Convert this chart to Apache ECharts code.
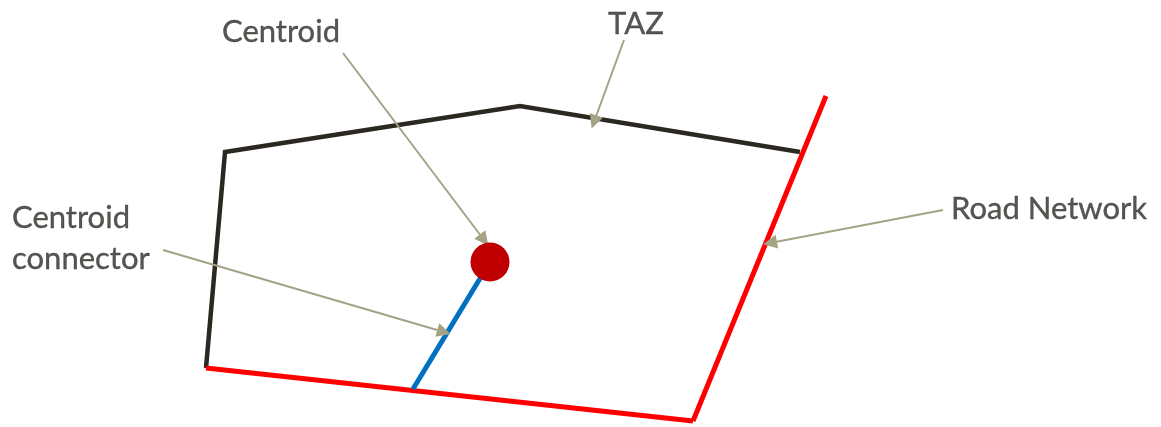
<!DOCTYPE html>
<html><head><meta charset="utf-8">
<script src="https://cdn.jsdelivr.net/npm/echarts@6/dist/echarts.min.js"></script>
<style>html,body{margin:0;padding:0;background:#fff}#c{width:1161px;height:427px}</style>
</head><body><div id="c"></div>
<script>
// Diagram geometry (pixel-space data coordinates)
const tazBoundary = [[206,368],[225,152],[520,106],[800,152]];
const roadBottom = [[206,368],[693,421]];
const roadRight = [[693,421],[826,96]];
const connector = [[413,389],[490,262]];
const centroid = [[490,262]];
const arrows = [
  [[343,53],[484,240]],
  [[624,40],[594,122]],
  [[163,250],[444,332]],
  [[943,210],[770,243]]
];
const labels = [
  {name:'Centroid', at:[281,32], align:'center'},
  {name:'TAZ', at:[636,24], align:'center'},
  {name:'Centroid\nconnector', at:[12,238], align:'left'},
  {name:'Road Network', at:[951,209], align:'left'}
];

const chart = echarts.init(document.getElementById('c'));
chart.setOption({
  animation:false,
  grid:{left:0,right:0,top:0,bottom:0},
  xAxis:{type:'value',min:0,max:1161,show:false},
  yAxis:{type:'value',min:0,max:427,inverse:true,show:false},
  series:[
    {type:'line',z:2,data:tazBoundary,symbol:'none',lineStyle:{color:'#2a2820',width:4.5,join:'miter'}},
    {type:'line',z:2,data:roadBottom,symbol:'none',lineStyle:{color:'#ff0000',width:5}},
    {type:'line',z:2,data:roadRight,symbol:'none',lineStyle:{color:'#ff0000',width:5}},
    {type:'line',z:2,data:connector,symbol:'none',lineStyle:{color:'#0070c0',width:5}},
    {type:'lines',z:3,coordinateSystem:'cartesian2d',symbol:['none','triangle'],symbolSize:[12,14],
      lineStyle:{color:'#a4a385',width:2,opacity:1},
      data:arrows.map(a=>({coords:a}))},
    {type:'scatter',z:5,data:centroid,symbolSize:39,itemStyle:{color:'#c00000',opacity:1}},
    {type:'scatter',z:6,symbolSize:0,silent:true,
      data:labels.map(l=>({value:l.at,label:{show:true,position:'inside',formatter:l.name,align:l.align,
        verticalAlign:'middle',color:'#2a2a26',textBorderColor:'#2a2a26',textBorderWidth:0.35,
        fontSize:31,lineHeight:41,fontFamily:'Lato'}}))}
  ]
});
</script></body></html>
